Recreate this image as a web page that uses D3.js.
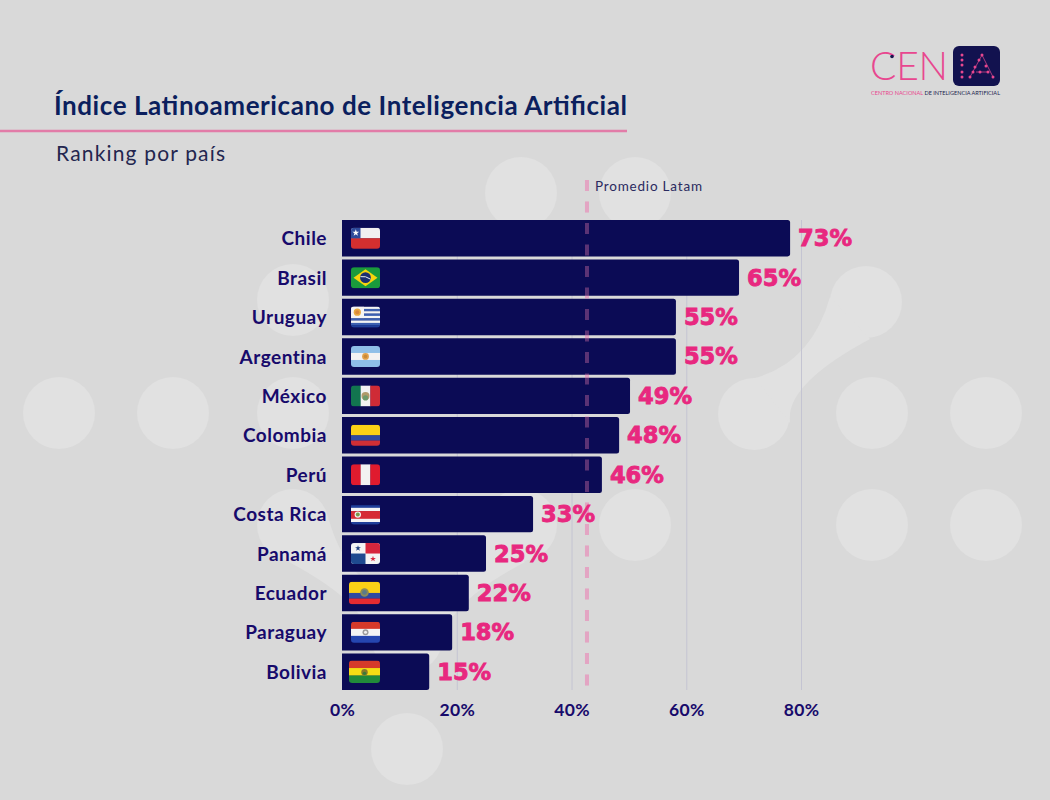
<!DOCTYPE html>
<html lang="es">
<head>
<meta charset="utf-8">
<script src="https://cdn.jsdelivr.net/npm/d3@7"></script>
<style>
html,body{margin:0;padding:0;background:#d9d9d9;overflow:hidden}
svg{display:block}
text{font-family:Lato,"Noto Sans",sans-serif}
</style>
</head>
<body>
<div id="chart"></div>
<script>
const categories = ["Chile","Brasil","Uruguay","Argentina","México","Colombia","Perú","Costa Rica","Panamá","Ecuador","Paraguay","Bolivia"];
const barValues = [78.1,69.2,58.2,58.2,50.2,48.3,45.3,33.3,25.1,22.1,19.2,15.2];
const valueLabels = ["73%","65%","55%","55%","49%","48%","46%","33%","25%","22%","18%","15%"];
const xTicks = [0,20,40,60,80];
const averageValue = 42.7;
const averageLabel = "Promedio Latam";
const titleText = "Índice Latinoamericano de Inteligencia Artificial";
const subtitleText = "Ranking por país";

const W = 1050, H = 800;
const navy = "#0b0b55", labelNavy = "#170a6b", pink = "#e8287f";
const svg = d3.select("#chart").append("svg").attr("width", W).attr("height", H);
svg.append("rect").attr("width", W).attr("height", H).attr("fill", "#d9d9d9");

// background decoration
const deco = svg.append("g").attr("fill", "#e1e1e1");
[[59,413],[173,413],[293,413],[293,300],[293,525],[407,637],[521,525],[635,525],
 [521,193],[635,193],[407,749],[754,414],[866,302],[872,413],[986,413],[872,525],[986,525]]
 .forEach(([cx,cy]) => deco.append("circle").attr("cx",cx).attr("cy",cy).attr("r",36));
const neck = "M-36,-5Q-54.5,60.5,-111,76L-76,121Q-82,83,4,37Z";
deco.append("path").attr("d",neck).attr("transform","translate(866,302)");
deco.append("path").attr("d",neck).attr("transform","translate(521,525)");
deco.append("path").attr("d",neck).attr("transform","translate(293,525) scale(-1,1)");

// scales
const x = d3.scaleLinear().domain([0,80]).range([342,801]);
const y = d3.scaleBand().domain(categories).range([220,690]).paddingInner(0.075);

// grid
const grid = svg.append("g").attr("transform","translate(0,690)")
  .call(d3.axisBottom(x).tickValues(xTicks.slice(1)).tickSize(-470).tickFormat(""));
grid.select(".domain").remove();
grid.selectAll("line").attr("stroke","#c4c4d2").attr("stroke-width",1);

// average line (part that sits behind the bars)
const avgLine = (sel, color, op) => sel.append("line")
  .attr("x1",x(averageValue)).attr("x2",x(averageValue)).attr("y1",180).attr("y2",690)
  .attr("stroke",color).attr("stroke-width",4).attr("stroke-opacity",op)
  .attr("stroke-dasharray","11 10.5");
avgLine(svg,"#e0becf",1);

// bars
svg.append("g").selectAll("path").data(categories).join("path")
  .attr("fill",navy)
  .attr("d",(d,i)=>{
    const x0=x(0), x1=x(barValues[i]), t=y(d), b=t+y.bandwidth(), r=2.5;
    return `M${x0},${t}H${x1-r}Q${x1},${t},${x1},${t+r}V${b-r}Q${x1},${b},${x1-r},${b}H${x0}Z`;
  });

avgLine(svg,"#e87ab0",0.36);

// average label
svg.append("text").attr("x",595).attr("y",191).attr("font-size",13.5)
  .attr("fill","#2b2b60").attr("textLength",107).text(averageLabel);

// flags
const FW = 29, FH = 21;
const largerFlags = ["Ecuador","Bolivia"];
const defs = svg.append("defs");
defs.append("clipPath").attr("id","flagClip").append("rect")
  .attr("width",FW).attr("height",FH).attr("rx",3);

function hBands(g, bands){ // bands: [color, weight]
  const total = d3.sum(bands,b=>b[1]); let acc=0;
  bands.forEach(([c,w])=>{
    g.append("rect").attr("x",0).attr("y",acc/total*FH).attr("width",FW).attr("height",w/total*FH+0.2).attr("fill",c);
    acc+=w;
  });
}
function vBands(g, bands){
  const total = d3.sum(bands,b=>b[1]); let acc=0;
  bands.forEach(([c,w])=>{
    g.append("rect").attr("x",acc/total*FW).attr("y",0).attr("width",w/total*FW+0.2).attr("height",FH).attr("fill",c);
    acc+=w;
  });
}
const dot = (g,cx,cy,r,c)=>g.append("circle").attr("cx",cx).attr("cy",cy).attr("r",r).attr("fill",c);
const star = (g,cx,cy,r,c)=>g.append("path").attr("transform",`translate(${cx},${cy})`)
  .attr("d",d3.symbol(d3.symbolStar,r*r*2.2)()).attr("fill",c);

const flagDrawers = {
  "Chile": g=>{ hBands(g,[["#f1eff0",1],["#d32f2f",1]]);
    g.append("rect").attr("width",9.5).attr("height",10.5).attr("fill","#2d4a9a"); star(g,4.8,5.2,2.6,"#fff"); },
  "Brasil": g=>{ hBands(g,[["#1a9a3c",1]]);
    g.append("path").attr("d",`M${FW/2},2L${FW-2.5},${FH/2}L${FW/2},${FH-2}L2.5,${FH/2}Z`).attr("fill","#f6d40e");
    dot(g,FW/2,FH/2,5.4,"#1b2f70");
    g.append("path").attr("d",`M${FW/2-5},${FH/2-1}Q${FW/2},${FH/2-2},${FW/2+5},${FH/2+1.5}`).attr("stroke","#e9eef0").attr("stroke-width",1).attr("fill","none"); },
  "Uruguay": g=>{ hBands(g,[["#f4f4f4",1],["#3c5fb0",1],["#f4f4f4",1],["#3c5fb0",1],["#f4f4f4",1],["#3c5fb0",1],["#f4f4f4",1],["#3c5fb0",1],["#1f3f9a",1]]);
    g.append("rect").attr("width",13).attr("height",11.5).attr("fill","#f4f4f4"); dot(g,6.3,5.6,3.6,"#e8a93f"); dot(g,6.3,5.6,2,"#d9873a"); },
  "Argentina": g=>{ hBands(g,[["#8fbfe8",1],["#f2f2f2",1],["#8fbfe8",1]]); dot(g,FW/2,FH/2,3.4,"#e0a04a"); dot(g,FW/2,FH/2,1.8,"#c98a3a"); },
  "México": g=>{ vBands(g,[["#12754f",1],["#f2f2f2",1],["#cf2b36",1]]); dot(g,FW/2,FH/2,4,"#b09a6a"); dot(g,FW/2,FH/2+2,2.6,"#6f9a6a"); },
  "Colombia": g=>{ hBands(g,[["#fbd116",2],["#2f4aa0",1],["#d02f35",1]]); },
  "Perú": g=>{ vBands(g,[["#e01b2e",1],["#f2f2f2",1],["#e01b2e",1]]); },
  "Costa Rica": g=>{ hBands(g,[["#0b0b55",0.5],["#1f3f9a",0.8],["#f4f4f4",1],["#d62b35",2.4],["#f4f4f4",1],["#1f3f9a",0.8]]);
    dot(g,6.8,FH/2+0.5,3.2,"#f2f2f2"); dot(g,6.8,FH/2+0.5,2,"#7a9a4a"); },
  "Panamá": g=>{ g.append("rect").attr("width",FW).attr("height",FH).attr("fill","#f4f4f4");
    g.append("rect").attr("x",FW/2).attr("width",FW/2).attr("height",FH/2).attr("fill","#d7263d");
    g.append("rect").attr("y",FH/2).attr("width",FW/2).attr("height",FH/2).attr("fill","#1f4a90");
    star(g,7,5.2,2.2,"#1f3f80"); star(g,FW-7,FH-5.2,2.2,"#d7263d"); },
  "Ecuador": g=>{ hBands(g,[["#fbd116",2],["#2f4aa0",1],["#e52b30",1]]); dot(g,FW/2,FH/2-0.5,4,"#8a8a5a"); dot(g,FW/2,FH/2-0.5,2.2,"#5a7a8a"); },
  "Paraguay": g=>{ hBands(g,[["#d63a2a",1],["#f4f4f4",1],["#2546b0",1]]); dot(g,FW/2,FH/2,3,"#9a9a9a"); dot(g,FW/2,FH/2,1.5,"#f0f0f0"); },
  "Bolivia": g=>{ hBands(g,[["#d63a2a",1],["#f6dc14",1],["#218a3a",1]]); dot(g,FW/2,FH/2+0.5,3,"#8a7a2a"); dot(g,FW/2,FH/2+1.5,1.6,"#3a7a3a"); }
};
categories.forEach(c=>{
  const big = largerFlags.includes(c), s = big ? 31/FW : 1;
  const g = svg.append("g")
    .attr("transform",`translate(${big?349:351},${y(c)+y.bandwidth()/2-FH*s/2}) scale(${s})`)
    .append("g").attr("clip-path","url(#flagClip)");
  flagDrawers[c](g);
});

// value labels
svg.append("g").selectAll("text").data(categories).join("text")
  .attr("x",(d,i)=>x(barValues[i])+8)
  .attr("y",d=>y(d)+y.bandwidth()/2+8)
  .style("font-family","'DejaVu Sans',sans-serif")
  .attr("font-weight",700).attr("font-size",23)
  .attr("fill",pink).attr("stroke",pink).attr("stroke-width",0.9)
  .attr("textLength",54).attr("lengthAdjust","spacingAndGlyphs")
  .text((d,i)=>valueLabels[i]);

// axes
const yAxis = svg.append("g").attr("transform",`translate(${x(0)},1)`)
  .call(d3.axisLeft(y).tickSize(0).tickPadding(15));
yAxis.select(".domain").remove();
yAxis.selectAll("text").attr("font-size",19).attr("font-weight",700).attr("fill",labelNavy)
  .style("font-family","Lato,sans-serif").style("letter-spacing","0.5px");

const xAxis = svg.append("g").attr("transform","translate(0,690)")
  .call(d3.axisBottom(x).tickValues(xTicks).tickSize(0).tickPadding(14).tickFormat(d=>d+"%"));
xAxis.select(".domain").remove();
xAxis.selectAll("text").attr("font-size",17.5).attr("font-weight",700).attr("fill",labelNavy)
  .style("font-family","Lato,sans-serif").style("letter-spacing","0.3px");

// title block
svg.append("text").attr("x",54).attr("y",115).attr("font-size",26).attr("font-weight",700)
  .attr("fill","#0b1f5e").attr("textLength",573).text(titleText);
svg.append("line").attr("x1",0).attr("x2",627).attr("y1",131).attr("y2",131)
  .attr("stroke","#e27ca8").attr("stroke-width",2.6);
svg.append("text").attr("x",56).attr("y",161).attr("font-size",21).attr("font-weight",400)
  .attr("fill","#23264f").attr("textLength",169).text(subtitleText);

// logo
const logo = svg.append("g");
logo.append("text").attr("x",870).attr("y",80).attr("font-size",39).attr("font-weight",300)
  .attr("fill","#e8478f").attr("textLength",78).text("CEN");
logo.append("circle").attr("cx",892).attr("cy",56.5).attr("r",1.8).attr("fill","#16164f");
logo.append("rect").attr("x",953).attr("y",46).attr("width",47).attr("height",40).attr("rx",6).attr("fill","#12124f");
const iaLines = [[[982,55],[970,77]],[[982,55],[993,77]],[[976,72],[988,72]]];
iaLines.forEach(([a,b])=>logo.append("line").attr("x1",a[0]).attr("y1",a[1]).attr("x2",b[0]).attr("y2",b[1])
  .attr("stroke","#e8478f").attr("stroke-width",0.7));
[[962,55],[962,60],[962,65],[962,72],[962,77],[982,55],[979,60],[975,67],[970,77],[973,72],
 [986,66],[980,72],[988,72],[993,77]].forEach(([cx,cy])=>logo.append("circle")
  .attr("cx",cx).attr("cy",cy).attr("r",1.5).attr("fill","#e8478f"));
const tag = logo.append("text").attr("x",871).attr("y",95).attr("font-size",5.2).attr("font-weight",400)
  .attr("textLength",129).attr("lengthAdjust","spacingAndGlyphs");
tag.append("tspan").attr("fill","#e8478f").text("CENTRO NACIONAL ");
tag.append("tspan").attr("fill","#23264f").text("DE INTELIGENCIA ARTIFICIAL");
</script>
</body>
</html>
